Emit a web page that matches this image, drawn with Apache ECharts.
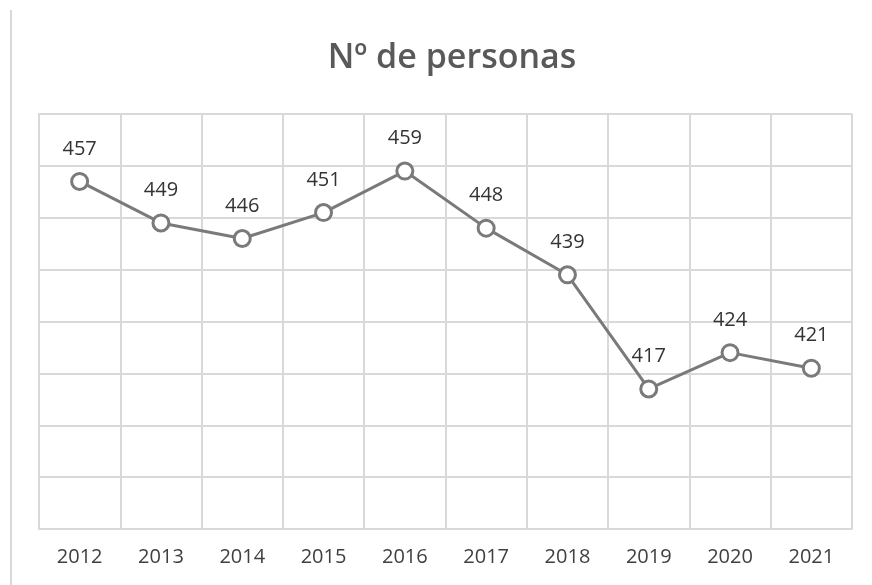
<!DOCTYPE html>
<html>
<head>
<meta charset="utf-8">
<script src="https://cdn.jsdelivr.net/npm/echarts@6/dist/echarts.min.js"></script>
<style>
  html, body { margin: 0; padding: 0; background: #fff; }
  #chart { width: 872px; height: 585px; }
</style>
</head>
<body>
<div id="chart"></div>
<script>
const years = ["2012", "2013", "2014", "2015", "2016", "2017", "2018", "2019", "2020", "2021"];
const personas = [457, 449, 446, 451, 459, 448, 439, 417, 424, 421];

const chart = echarts.init(document.getElementById("chart"));
chart.setOption({
  animation: false,
  title: {
    text: "Nº de personas",
    left: 447,
    textAlign: "center",
    top: 36,
    textStyle: {
      fontFamily: "Open Sans",
      fontSize: 34,
      fontWeight: 600,
      color: "#595959"
    }
  },
  graphic: [{
    type: "line",
    shape: { x1: 11, y1: 10, x2: 11, y2: 585 },
    style: { stroke: "#d9d9d9", lineWidth: 2 }
  }],
  grid: {
    left: 39,
    right: 20,
    top: 114,
    bottom: 56
  },
  xAxis: {
    type: "category",
    data: years,
    boundaryGap: true,
    axisTick: { show: false },
    axisLine: { show: true, lineStyle: { color: "#d9d9d9", width: 2 } },
    axisLabel: {
      fontFamily: "Open Sans",
      fontSize: 20,
      fontWeight: 500,
      color: "#404040",
      margin: 18
    },
    splitLine: { show: true, lineStyle: { color: "#d9d9d9", width: 2 } }
  },
  yAxis: {
    type: "value",
    min: 390,
    max: 470,
    interval: 10,
    axisLabel: { show: false },
    axisTick: { show: false },
    axisLine: { show: true, lineStyle: { color: "#d9d9d9", width: 2 } },
    splitLine: { show: true, lineStyle: { color: "#d9d9d9", width: 2 } }
  },
  series: [{
    type: "line",
    data: personas,
    color: "#7a7a7a",
    lineStyle: { color: "#7a7a7a", width: 3 },
    symbol: "circle",
    symbolSize: 16,
    itemStyle: { color: "#ffffff", borderColor: "#7a7a7a", borderWidth: 3 },
    label: {
      show: true,
      position: "top",
      distance: 13,
      fontFamily: "Open Sans",
      fontSize: 20,
      fontWeight: 500,
      color: "#333333"
    }
  }]
});
</script>
</body>
</html>
